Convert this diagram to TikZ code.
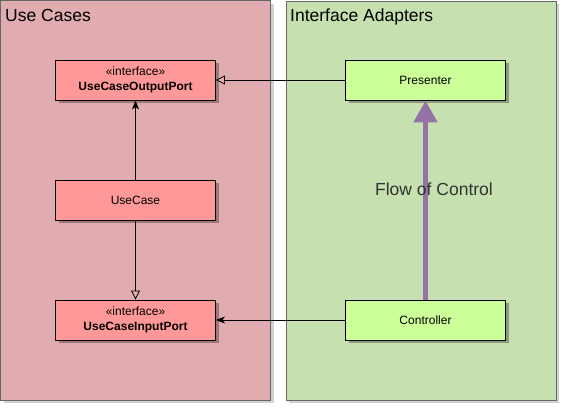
\documentclass[tikz,border=0pt]{standalone}
\usepackage{fontspec}
\setmainfont{Liberation Sans}
\usetikzlibrary{arrows.meta,shadows}
\definecolor{ucpanel}{RGB}{224,172,175}
\definecolor{ucbox}{RGB}{255,153,153}
\definecolor{iapanel}{RGB}{198,224,176}
\definecolor{iabox}{RGB}{204,255,153}
\definecolor{flowcol}{RGB}{150,115,166}
\definecolor{panelline}{RGB}{102,102,102}

\begin{document}
\begin{tikzpicture}[x=1pt, y=-1pt,
    panel/.style={draw=panelline, line width=0.8pt, drop shadow={shadow xshift=3pt, shadow yshift=-3pt, opacity=0.18, fill=black}},
    umlbox/.style={draw=black, line width=0.9pt, minimum width=160pt, minimum height=40pt, inner sep=0pt, align=center, font=\fontsize{12}{15}\selectfont, drop shadow={shadow xshift=3pt, shadow yshift=-3pt, opacity=0.3, fill=black}},
    title/.style={anchor=base west, inner sep=0pt, font=\fontsize{17.5}{20}\selectfont},
    realize/.style={-{Triangle[open, length=9pt, width=9pt]}, line width=0.8pt},
    uses/.style={-{Stealth[length=9pt, width=7pt, inset=2.5pt]}, line width=0.8pt}]
    \useasboundingbox(0,0)rectangle(569,415);

    % panels
    \filldraw[panel, fill=ucpanel](0.5,0.5)rectangle(270.5,400);
    \filldraw[panel, fill=iapanel](286,1)rectangle(556,400);
    \node[title](ucname)at(5,21.5){Use Cases};
    \node[title](ianame)at(290,21.5){Interface Adapters};

    % classes
    \node[umlbox, fill=ucbox](outport)at(135.5,80){«interface»\\\textbf{UseCaseOutputPort}};
    \node[umlbox, fill=ucbox](usecase)at(135.5,200){UseCase};
    \node[umlbox, fill=ucbox](inport)at(135.5,320){«interface»\\\textbf{UseCaseInputPort}};
    \node[umlbox, fill=iabox](presenter)at(425.5,80){Presenter};
    \node[umlbox, fill=iabox](controller)at(425.5,320){Controller};

    % relations
    \draw[realize](presenter.west)--(outport.east);
    \draw[uses](usecase.north)--(outport.south);
    \draw[realize](usecase.south)--(inport.north);
    \draw[uses](controller.west)--(inport.east);

    % flow of control
    \draw[-{Triangle[length=22pt, width=23pt]}, line width=5pt, flowcol](controller.north)--(presenter.south);
    \node[anchor=base, inner sep=0pt, text=black!80, font=\fontsize{17.5}{20}\selectfont](flow)at(434,195){Flow of Control};
\end{tikzpicture}
\end{document}
